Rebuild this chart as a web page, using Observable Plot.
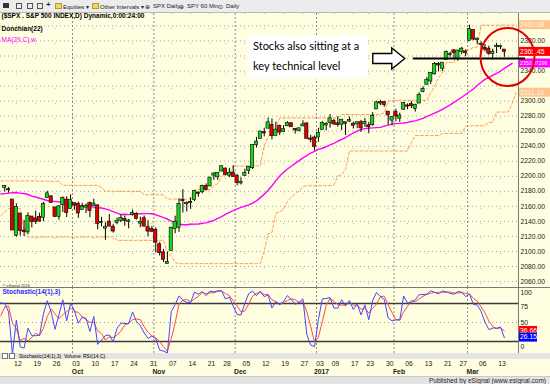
<!DOCTYPE html>
<html><head><meta charset="utf-8">
<script src="https://cdn.jsdelivr.net/npm/d3@7"></script>
<script src="https://cdn.jsdelivr.net/npm/@observablehq/plot@0.6"></script>
<style>
html,body{margin:0;padding:0;}
body{width:550px;height:384px;overflow:hidden;background:#ececec;font-family:"Liberation Sans",Arial,sans-serif;}
#wrap{position:relative;width:550px;height:384px;}
.abs{position:absolute;}
#toolbar{left:0;top:0;width:550px;height:12px;background:#ececec;border-bottom:1px solid #b8b8b8;font-size:6px;color:#222;}
#toolbar span{position:absolute;top:2.5px;white-space:nowrap;}
.ico{position:absolute;top:3px;width:6px;height:5px;}
#tabs{left:0;top:353px;width:550px;height:6px;background:#e4e4e4;font-size:5px;color:#000;}
#tabs span{position:absolute;top:0;white-space:nowrap;}
#footer{left:0;top:376px;width:550px;height:8px;background:#e4e4e4;border-top:1px solid #c8c8c8;}
#footer span{position:absolute;right:4px;top:0px;font-size:6.5px;color:#222;}
svg{display:block}
</style></head>
<body><div id="wrap">
<div id="toolbar" class="abs">
  <div class="ico" style="left:3px;background:#333"></div>
  <div class="ico" style="left:16px;border:1px solid #555;width:4px;height:4px"></div>
  <div class="ico" style="left:27px;border:1px solid #555;width:4px;height:4px"></div>
  <div class="ico" style="left:37px;border:1px solid #555;width:4px;height:4px"></div>
  <span style="left:46px;font-weight:bold;font-size:8px;top:0px">+</span>
  <div class="ico" style="left:55px;background:#f3d36a;border:1px solid #b79a2c;width:5px;height:4px"></div>
  <span style="left:63px">Equities ▾</span>
  <div class="ico" style="left:92px;background:#f3d36a;border:1px solid #b79a2c;width:5px;height:4px"></div>
  <span style="left:100px">Other Intervals ▾</span>
  <span style="left:145px">⊕</span><span style="left:153px">SPX Daily</span>
  <span style="left:179px">⊕</span><span style="left:187px">SPY 60 Min</span>
  <span style="left:218px">⊙</span><span style="left:226px">Daily</span>
</div>
<div id="main" class="abs" style="left:0;top:13px"></div>
<div id="stoch" class="abs" style="left:0;top:287px"></div>
<div id="tabs" class="abs">
  <span style="left:2px;top:0;background:#fff;border:1px solid #777;width:4px;height:4px"></span>
  <span style="left:9px;top:0;background:#fff;border:1px solid #777;width:4px;height:4px"></span>
  <span style="left:19px">Stochastic(14(1),3)</span>
  <span style="left:64px">Volume</span>
  <span style="left:83px">RSI(14,C)</span>
</div>
<div id="axis" class="abs" style="left:0;top:359px"></div>
<div id="footer" class="abs"><span>Published by eSignal (www.esignal.com)</span></div>
</div>
<script>
// ---------- DATA (S&P 500 daily) ----------
const dates = ("2016-09-07 2016-09-08 2016-09-09 2016-09-12 2016-09-13 2016-09-14 2016-09-15 2016-09-16 2016-09-19 2016-09-20 2016-09-21 2016-09-22 2016-09-23 2016-09-26 2016-09-27 2016-09-28 2016-09-29 2016-09-30 " +
"2016-10-03 2016-10-04 2016-10-05 2016-10-06 2016-10-07 2016-10-10 2016-10-11 2016-10-12 2016-10-13 2016-10-14 2016-10-17 2016-10-18 2016-10-19 2016-10-20 2016-10-21 2016-10-24 2016-10-25 2016-10-26 2016-10-27 2016-10-28 2016-10-31 " +
"2016-11-01 2016-11-02 2016-11-03 2016-11-04 2016-11-07 2016-11-08 2016-11-09 2016-11-10 2016-11-11 2016-11-14 2016-11-15 2016-11-16 2016-11-17 2016-11-18 2016-11-21 2016-11-22 2016-11-23 2016-11-25 2016-11-28 2016-11-29 2016-11-30 " +
"2016-12-01 2016-12-02 2016-12-05 2016-12-06 2016-12-07 2016-12-08 2016-12-09 2016-12-12 2016-12-13 2016-12-14 2016-12-15 2016-12-16 2016-12-19 2016-12-20 2016-12-21 2016-12-22 2016-12-23 2016-12-27 2016-12-28 2016-12-29 2016-12-30 " +
"2017-01-03 2017-01-04 2017-01-05 2017-01-06 2017-01-09 2017-01-10 2017-01-11 2017-01-12 2017-01-13 2017-01-17 2017-01-18 2017-01-19 2017-01-20 2017-01-23 2017-01-24 2017-01-25 2017-01-26 2017-01-27 2017-01-30 2017-01-31 " +
"2017-02-01 2017-02-02 2017-02-03 2017-02-06 2017-02-07 2017-02-08 2017-02-09 2017-02-10 2017-02-13 2017-02-14 2017-02-15 2017-02-16 2017-02-17 2017-02-21 2017-02-22 2017-02-23 2017-02-24 2017-02-27 2017-02-28 " +
"2017-03-01 2017-03-02 2017-03-03 2017-03-06 2017-03-07 2017-03-08 2017-03-09 2017-03-10 2017-03-13 2017-03-14").split(" ");

const open = [2185.17,2182.76,2169.08,2120.86,2150.47,2127.86,2125.36,2146.48,2143.99,2145.94,2144.58,2170.94,2173.29,2158.54,2146.04,2161.85,2168.90,2156.51,
2164.33,2163.37,2155.15,2158.22,2164.19,2160.39,2161.35,2137.67,2130.26,2139.68,2132.95,2138.31,2140.81,2142.51,2139.43,2148.50,2149.72,2136.97,2144.06,2132.23,2129.78,
2128.68,2109.43,2098.80,2083.79,2100.59,2129.92,2131.56,2167.49,2162.71,2165.64,2168.29,2177.53,2178.61,2186.85,2186.43,2201.56,2198.55,2206.27,2210.21,2200.76,2204.97,
2200.17,2191.12,2200.65,2207.26,2210.72,2241.13,2249.73,2258.83,2263.32,2268.35,2253.77,2266.81,2259.24,2266.50,2270.54,2262.93,2260.25,2266.23,2270.23,2249.50,2251.61,
2251.57,2261.60,2268.18,2271.14,2273.59,2269.72,2268.60,2271.14,2272.74,2269.14,2269.14,2271.90,2269.96,2267.78,2267.88,2288.88,2298.63,2299.02,2286.01,2274.02,
2285.59,2276.69,2288.54,2294.28,2295.87,2289.55,2296.70,2312.27,2321.72,2326.12,2335.58,2349.64,2343.01,2354.91,2361.11,2367.50,2355.73,2365.23,2366.08,
2380.13,2394.75,2380.92,2375.23,2370.74,2369.81,2363.49,2372.52,2371.56,2368.55];
const high = [2187.87,2184.94,2169.08,2163.30,2150.47,2141.33,2151.31,2146.48,2153.61,2150.80,2165.11,2179.99,2173.75,2158.54,2161.13,2172.40,2172.67,2175.30,
2164.33,2165.46,2163.95,2162.93,2165.86,2169.60,2161.56,2145.36,2138.19,2149.19,2135.61,2144.38,2148.44,2147.18,2142.63,2154.79,2151.44,2145.73,2147.13,2140.72,2133.25,
2131.45,2111.76,2102.56,2099.07,2132.00,2146.87,2170.10,2182.30,2165.92,2171.36,2180.84,2179.22,2188.06,2189.89,2198.70,2204.80,2204.72,2213.35,2211.14,2210.46,2214.10,
2202.60,2197.95,2209.42,2212.78,2241.63,2251.69,2259.80,2264.03,2277.53,2276.20,2272.12,2268.05,2267.47,2272.56,2271.23,2263.18,2263.79,2273.82,2271.31,2254.51,2253.58,
2263.88,2272.82,2271.50,2282.10,2275.49,2279.27,2275.32,2271.78,2278.68,2272.08,2272.01,2274.33,2276.96,2271.78,2284.63,2299.55,2300.99,2299.02,2286.01,2279.09,
2289.14,2283.97,2298.31,2296.18,2299.40,2295.91,2311.08,2319.23,2331.58,2337.58,2351.30,2351.31,2351.16,2366.71,2365.13,2368.26,2367.34,2371.54,2367.79,
2400.98,2394.75,2383.89,2378.80,2375.12,2373.09,2369.08,2376.86,2374.42,2368.55];
const low = [2179.07,2177.49,2127.81,2119.12,2120.27,2119.90,2122.36,2131.20,2135.91,2139.17,2139.57,2170.94,2163.97,2145.04,2141.55,2151.79,2145.20,2156.51,
2154.77,2144.01,2155.15,2150.28,2144.85,2160.39,2128.84,2132.77,2114.72,2132.98,2124.43,2135.49,2138.15,2133.44,2130.09,2146.91,2141.93,2131.59,2132.52,2119.36,2125.53,
2097.85,2094.00,2085.23,2083.79,2100.59,2123.56,2125.35,2151.17,2152.49,2156.08,2166.38,2172.20,2176.65,2180.38,2186.43,2194.51,2194.51,2206.27,2200.36,2198.15,2198.81,
2187.44,2188.37,2199.97,2202.21,2208.93,2237.57,2249.23,2252.37,2263.32,2248.44,2253.77,2254.24,2258.21,2266.14,2265.15,2256.08,2258.84,2266.15,2249.11,2244.56,2233.62,
2245.13,2261.60,2260.45,2264.06,2268.04,2265.27,2260.83,2254.25,2271.51,2262.81,2263.35,2258.41,2265.01,2257.02,2266.68,2288.88,2294.08,2291.62,2268.04,2267.21,
2272.44,2271.65,2287.88,2288.57,2290.16,2285.38,2296.61,2311.10,2321.42,2322.17,2334.81,2338.87,2339.58,2354.91,2358.34,2355.09,2352.87,2361.87,2358.96,
2380.13,2380.17,2375.39,2367.98,2365.51,2361.01,2354.54,2363.04,2368.52,2358.18];
const close = [2186.16,2181.30,2127.81,2159.04,2127.02,2125.77,2147.26,2139.16,2139.12,2139.76,2163.12,2177.18,2164.69,2146.10,2159.93,2171.37,2151.13,2168.27,
2161.20,2150.49,2159.73,2160.77,2153.74,2163.66,2136.73,2139.18,2132.55,2132.98,2126.50,2139.60,2144.29,2141.34,2141.16,2151.33,2143.16,2139.43,2133.04,2126.41,2126.15,
2111.72,2097.94,2088.66,2085.18,2131.52,2139.56,2163.26,2167.48,2164.45,2164.20,2180.39,2176.94,2187.12,2181.90,2198.18,2202.94,2204.72,2213.35,2201.72,2204.66,2198.81,
2191.08,2191.95,2204.71,2212.23,2241.35,2246.19,2259.53,2256.96,2271.72,2253.28,2262.03,2258.07,2262.53,2270.76,2265.18,2260.96,2263.79,2268.88,2249.92,2249.26,2238.83,
2257.83,2270.75,2269.00,2276.98,2268.90,2268.90,2275.32,2270.44,2274.64,2267.89,2271.89,2263.69,2271.31,2265.20,2280.07,2298.37,2296.68,2294.69,2280.90,2278.87,
2279.55,2280.85,2297.42,2292.56,2293.08,2294.67,2307.87,2316.10,2328.25,2337.58,2349.25,2347.22,2351.16,2365.38,2362.82,2363.81,2367.34,2369.75,2363.64,
2395.96,2381.92,2383.12,2375.31,2368.39,2362.98,2364.87,2372.60,2373.47,2365.45];

// bars before the visible window (needed by the indicators)
const priorHigh = [2167.81,2163.79,2168.19,2182.87,2185.44,2187.66,2182.24,2188.45,2186.28,2193.81,2186.24,2183.08,2187.03,2185.00,2183.48,2193.42,2186.66,2179.00,2187.94,2183.48,2182.27,2173.56,2173.59,2184.87,2186.57];
const priorLow  = [2147.58,2152.49,2159.07,2168.56,2177.85,2178.61,2172.00,2177.97,2179.42,2186.08,2178.14,2168.50,2180.46,2175.13,2172.00,2186.80,2171.25,2169.74,2160.39,2170.18,2170.41,2161.35,2157.09,2173.59,2175.10];
const priorClose = [2169.18,2166.58,2170.06,2173.60,2170.84,2157.03,2163.79,2164.25,2182.87,2180.89,2181.74,2175.49,2185.79,2184.05,2190.15,2178.15,2182.22,2187.02,2183.87,2182.64,2186.90,2175.44,2172.47,2169.04,2180.38,2176.12,2170.95,2170.86,2179.98,2186.48];

const priceTicks = [2060,2080,2100,2120,2140,2160,2180,2200,2220,2240,2260,2280,2300,2340,2380];
const gridLevels = [2060,2080,2100,2120,2140,2160,2180,2200,2220,2240,2260,2280,2300,2320,2340,2360,2380,2400];
const stochTicks = [75,50];
const weekTicks = ["2016-09-12","2016-09-19","2016-09-26","2016-10-03","2016-10-10","2016-10-17","2016-10-24","2016-10-31","2016-11-07","2016-11-14","2016-11-21","2016-11-28","2016-12-05","2016-12-12","2016-12-19","2016-12-27","2017-01-03","2017-01-09","2017-01-17","2017-01-23","2017-01-30","2017-02-06","2017-02-13","2017-02-21","2017-02-27","2017-03-06","2017-03-13"];
const monthTickDates = ["2016-10-03","2016-11-01","2016-12-01","2017-01-03","2017-02-01","2017-03-01"];
const monthLabels = ["Oct","Nov","Dec","2017","Feb","Mar"];
const keyLevel = 2356;           // hand-drawn support line
const keyLevelFrom = "2017-02-08";

const DON_LEN = 22, DON_SHIFT = 3, MA_LEN = 27, MA_SHIFT = 2, ST_LEN = 14, ST_D = 3;

// ---------- indicators ----------
const n = dates.length;
const rows = dates.map((d, i) => ({i, o: open[i], h: high[i], l: low[i], c: close[i]}));
const PH = priorHigh.length, PC = priorClose.length;
const allH = priorHigh.concat(high), allL = priorLow.concat(low), allC = priorClose.concat(close);
const don = [];
for (let j = -1; j <= n - 1 + DON_SHIFT; j++) {
  const e = j - DON_SHIFT + PH, s = e - (DON_LEN - 1);
  if (s < 0) continue;
  don.push({i: j, up: d3.max(allH.slice(s, e + 1)), lo: d3.min(allL.slice(s, e + 1))});
}
const ma = [];
for (let j = -1; j <= n - 1 + MA_SHIFT; j++) {
  const e = j - MA_SHIFT + PC, s = e - MA_LEN + 1;
  if (s < 0) continue;
  ma.push({i: j, v: d3.mean(allC.slice(s, e + 1))});
}
const K = new Map();
for (let i = -4; i < n; i++) {
  const e = i + PH, s = e - (ST_LEN - 1);
  const hh = d3.max(allH.slice(s, e + 1)), ll = d3.min(allL.slice(s, e + 1));
  K.set(i, (allC[i + PC] - ll) / (hh - ll) * 100);
}
const stoch = [];
for (let i = -1; i < n; i++) stoch.push({i, k: K.get(i), d: (K.get(i) + K.get(i - 1) + K.get(i - 2)) / 3});

// ---------- scales shared by panels ----------
const xDomain = [0, n - 1], xRange = [4.23, 4.23 + 3.873 * (n - 1)];
const xs = d3.scaleLinear(xDomain, xRange);
const PLOT_R = 518;
const BG = "#fffee0";
const idx = d => dates.indexOf(d);

const lastDon = don[don.length - 1], lastMa = ma[ma.length - 1], lastSt = stoch[stoch.length - 1];

function tagMark(items, yscale) {
  return () => {
    const g = d3.create("svg:g");
    for (const t of items) {
      const yy = yscale(t.v) + (t.dy || 0);
      g.append("rect").attr("x", PLOT_R + 1).attr("y", yy - 4.5).attr("width", t.w || 31).attr("height", 9).attr("fill", t.bg);
      g.append("text").attr("x", PLOT_R + 2).attr("y", yy).attr("dy", "0.35em").attr("text-anchor", "start")
        .attr("font-size", t.fs || 6.8).attr("font-family", "Liberation Sans, Arial, sans-serif").attr("fill", t.fg).text(t.label);
    }
    return g.node();
  };
}

// ---------- main price panel ----------
const ysMain = d3.scaleLinear([2060, 2400], [268, 12.42]);
const green = "#19d419", red = "#e00000";
const main = Plot.plot({
  width: 550, height: 274, marginLeft: 0, marginRight: 550 - PLOT_R, marginTop: 0, marginBottom: 0,
  x: {domain: xDomain, range: xRange, axis: null},
  y: {domain: [2060, 2400], range: [268, 12.42], axis: null},
  color: {type: "identity"},
  style: {background: BG, fontFamily: "Liberation Sans, Arial, sans-serif"},
  marks: [
    Plot.ruleY(gridLevels, {x1: -1.1, x2: 132.65, stroke: "#9d9d9d", strokeDasharray: "1,3"}),
    Plot.ruleX(weekTicks, {x: d => idx(d), stroke: "#b5b5b5", strokeDasharray: "1,14"}),
    Plot.ruleX(monthTickDates, {x: d => idx(d) - 0.5, stroke: "#8a8a8a", strokeDasharray: "2,2"}),
    Plot.line(don, {x: "i", y: "up", stroke: "#ff9f55", strokeWidth: 1, strokeDasharray: "3,2"}),
    Plot.line(don, {x: "i", y: "lo", stroke: "#ff9f55", strokeWidth: 1, strokeDasharray: "3,2"}),
    Plot.line(ma, {x: "i", y: "v", stroke: "#ff00ff", strokeWidth: 1.4}),
    Plot.ruleX(rows, {x: "i", y1: "l", y2: "h", stroke: "#000", strokeWidth: 1}),
    Plot.rect(rows, {x1: d => d.i - 0.42, x2: d => d.i + 0.42,
      y1: d => Math.min(d.o, d.c) - (Math.abs(d.o - d.c) < 1.4 ? 0.7 : 0),
      y2: d => Math.max(d.o, d.c) + (Math.abs(d.o - d.c) < 1.4 ? 0.7 : 0),
      fill: d => d.c >= d.o ? green : red, stroke: "#000", strokeWidth: 0.6}),
    // price axis column
    Plot.ruleX([132.65], {stroke: "#7a7a7a"}),
    Plot.text(priceTicks, {x: 132.65, y: d => d, text: d => d.toFixed(2), textAnchor: "start", dx: 2, fontSize: 6.8, fill: "#1a1a1a"}),
    tagMark([
      {v: lastDon.up, label: lastDon.up.toFixed(2), bg: "#ffc48e", fg: "#fff8ee"},
      {v: close[n - 1], label: close[n - 1].toFixed(2), bg: "#ff0000", fg: "#ffffff"},
      {v: lastMa.v, label: lastMa.v.toFixed(5), bg: "#ff00ff", fg: "#ffffff", fs: 5.2},
      {v: lastDon.lo, label: lastDon.lo.toFixed(2), bg: "#ffc48e", fg: "#fff8ee"}
    ], ysMain),
    // titles
    Plot.text(["($SPX . S&P 500 INDEX,D) Dynamic,0:00:24:00"], {frameAnchor: "top-left", dx: 1, dy: 0, fontSize: 6.5, fontWeight: "bold", fill: "#000", textAnchor: "start"}),
    Plot.text(["Donchian(22)"], {frameAnchor: "top-left", dx: 1, dy: 13, fontSize: 6.5, fontWeight: "bold", fill: "#000", textAnchor: "start"}),
    Plot.text(["MA(29,C),w"], {frameAnchor: "top-left", dx: 1, dy: 24, fontSize: 6.5, fill: "#ff00ff", textAnchor: "start"}),
    Plot.text(["© eSignal 2016"], {frameAnchor: "bottom-left", dx: 2, dy: -1, fontSize: 4, fill: "#333", textAnchor: "start"}),
    // annotation: key technical level
    () => {
      const g = d3.create("svg:g");
      const yk = ysMain(keyLevel);
      const xk = xs(idx(keyLevelFrom));
      g.append("rect").attr("x", 248).attr("y", yk - 23).attr("width", 120).attr("height", 43).attr("fill", "#ffffff");
      for (const [t, dy] of [["Stocks also sitting at a", -8], ["key technical level", 12]]) {
        g.append("text").attr("x", 253).attr("y", yk + dy).attr("text-anchor", "start")
          .attr("font-family", "Lato, 'Open Sans', sans-serif").attr("font-size", 11).attr("fill", "#000").text(t);
      }
      const tip = xk - 10, ax = tip - 32;
      g.append("path").attr("d", `M${ax},${yk - 5} L${tip - 13},${yk - 5} L${tip - 13},${yk - 10.5} L${tip},${yk} L${tip - 13},${yk + 10.5} L${tip - 13},${yk + 5} L${ax},${yk + 5} Z`)
        .attr("fill", "#fff").attr("stroke", "#000").attr("stroke-width", 1.4).attr("stroke-linejoin", "miter");
      g.append("line").attr("x1", xk - 2).attr("x2", 525).attr("y1", yk).attr("y2", yk).attr("stroke", "#000").attr("stroke-width", 2);
      g.append("ellipse").attr("cx", 507.5).attr("cy", yk - 1.5).attr("rx", 27).attr("ry", 29)
        .attr("fill", "none").attr("stroke", "#e00000").attr("stroke-width", 2);
      return g.node();
    }
  ]
});
main.style.overflow = "visible";
document.getElementById("main").append(main);

// ---------- stochastic panel ----------
const ysSt = d3.scaleLinear([0, 100], [66.67, 3.33]);
const st = Plot.plot({
  width: 550, height: 66, marginLeft: 0, marginRight: 550 - PLOT_R, marginTop: 0, marginBottom: 0,
  x: {domain: xDomain, range: xRange, axis: null},
  y: {domain: [0, 100], range: [66.67, 3.33], axis: null},
  style: {background: BG, fontFamily: "Liberation Sans, Arial, sans-serif"},
  marks: [
    Plot.ruleY([50], {x1: -1.1, x2: 132.65, stroke: "#9d9d9d", strokeDasharray: "1,3"}),
    Plot.ruleX(monthTickDates, {x: d => idx(d) - 0.5, stroke: "#8a8a8a", strokeDasharray: "2,2"}),
    Plot.ruleY([80, 20], {x1: -1.1, x2: 132.65, stroke: "#3a3a3a", strokeWidth: 1.3}),
    Plot.line(stoch, {x: "i", y: "d", stroke: "#ff4a4a", strokeWidth: 1}),
    Plot.line(stoch, {x: "i", y: "k", stroke: "#4646ff", strokeWidth: 1}),
    Plot.ruleX([132.65], {stroke: "#7a7a7a"}),
    Plot.text(stochTicks, {x: 132.65, y: d => d, text: d => String(d), textAnchor: "start", dx: 2, fontSize: 6.8, fill: "#1a1a1a"}),
    Plot.text([100], {x: 132.65, y: d => d, text: d => String(d), textAnchor: "start", dx: 2, dy: 2, fontSize: 6.8, fill: "#1a1a1a"}),
    Plot.text([0], {x: 132.65, y: d => d, text: d => String(d), textAnchor: "start", dx: 2, dy: -7, fontSize: 6.8, fill: "#1a1a1a"}),
    tagMark([
      {v: lastSt.d, label: lastSt.d.toFixed(2), bg: "#ff0000", fg: "#ffffff", w: 18},
      {v: lastSt.k, label: lastSt.k.toFixed(2), bg: "#0000ff", fg: "#ffffff", w: 18}
    ], ysSt),
    Plot.text(["Stochastic(14(1),3)"], {frameAnchor: "top-left", dx: 2, dy: 2, fontSize: 6.5, fontWeight: "bold", fill: "#2a2aff", textAnchor: "start"}),
    () => {
      const g = d3.create("svg:g");
      g.append("line").attr("x1", 0).attr("x2", 550).attr("y1", 0.5).attr("y2", 0.5).attr("stroke", "#7a7a7a");
      return g.node();
    }
  ]
});
document.getElementById("stoch").append(st);

// ---------- date axis ----------
const ax = Plot.plot({
  width: 550, height: 17, marginLeft: 0, marginRight: 550 - PLOT_R, marginTop: 0, marginBottom: 0,
  x: {domain: xDomain, range: xRange, axis: null},
  style: {background: BG, fontFamily: "Liberation Sans, Arial, sans-serif"},
  marks: [
    Plot.text(weekTicks, {x: d => idx(d) + 0.4, text: d => d.slice(8), frameAnchor: "top", dy: 1.5, fontSize: 6.8, fill: "#1a1a1a"}),
    Plot.text(monthTickDates, {x: d => idx(d) + 0.8, text: (d, i) => monthLabels[i], frameAnchor: "top", dy: 9.5, fontSize: 6.8, fontWeight: "bold", fill: "#1a1a1a"})
  ]
});
document.getElementById("axis").append(ax);
</script>
</body></html>
